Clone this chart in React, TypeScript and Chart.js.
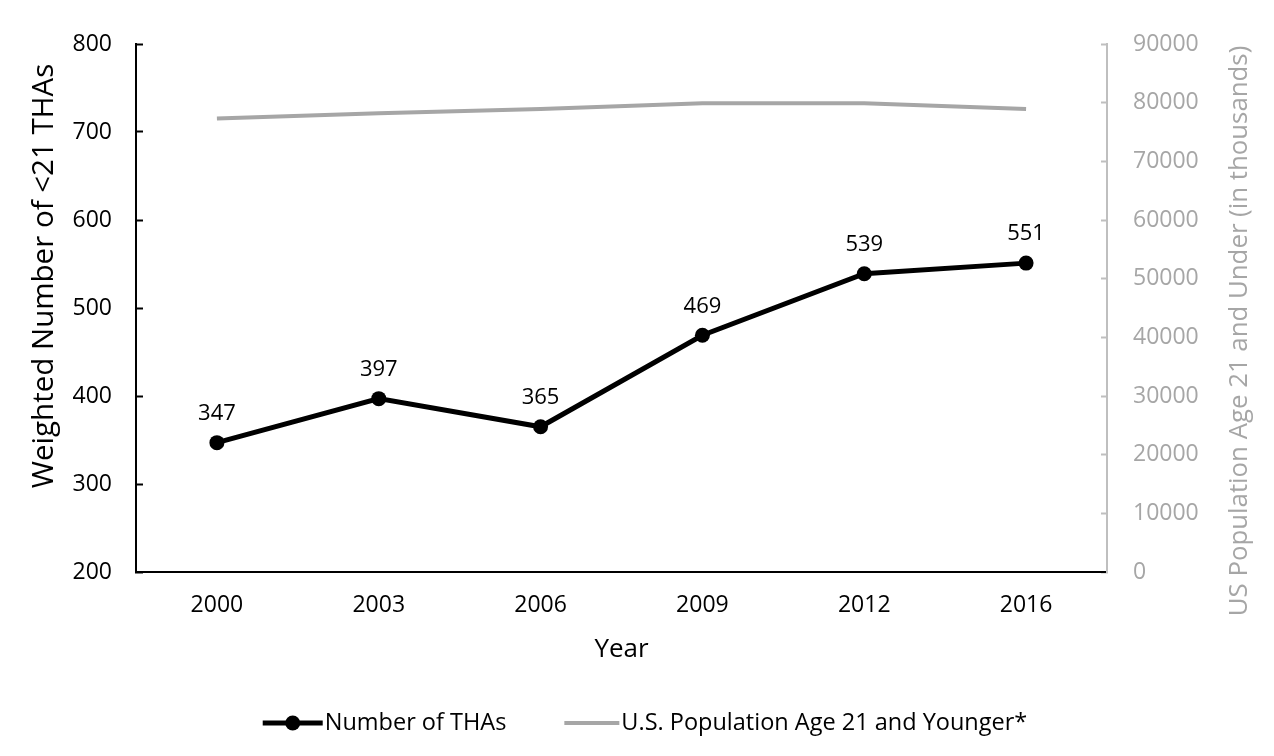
import React, { useEffect, useRef } from "react";
import { Chart, registerables } from "chart.js";

Chart.register(...registerables);

const years = ["2000", "2003", "2006", "2009", "2012", "2016"];
const thas = [347, 397, 365, 469, 539, 551];
const population = [77300, 78200, 78900, 79900, 79900, 78900];
const seriesLabels = ["Number of THAs", "U.S. Population Age 21 and Younger*"];
const leftTitle = "Weighted Number of <21 THAs";
const rightTitle = "US Population Age 21 and Under (in thousands)";
const xTitle = "Year";

const FONT = "'Open Sans', 'Noto Sans', sans-serif";
const BLACK = "#000000";
const GRAY = "#a6a6a6";
const GRAY_AXIS = "#bfbfbf";

const W = 1258;
const H = 740;

const customPlugin = {
  id: "custom",
  afterDatasetsDraw(chart: any) {
    const ctx = chart.ctx;
    const meta = chart.getDatasetMeta(0);
    ctx.save();
    ctx.font = `22px ${FONT}`;
    ctx.fillStyle = BLACK;
    ctx.textAlign = "center";
    ctx.textBaseline = "middle";
    meta.data.forEach((pt: any, i: number) => {
      ctx.fillText(String(thas[i]), pt.x, pt.y - 29);
    });
    ctx.restore();
  },
  afterDraw(chart: any) {
    const ctx = chart.ctx;
    ctx.save();
    ctx.textAlign = "center";
    ctx.textBaseline = "middle";
    ctx.fillStyle = BLACK;
    ctx.font = `29.5px ${FONT}`;
    ctx.save();
    ctx.translate(37, 268);
    ctx.rotate(-Math.PI / 2);
    ctx.fillText(leftTitle, 0, 0);
    ctx.restore();
    ctx.fillStyle = GRAY;
    ctx.font = `25.8px ${FONT}`;
    ctx.save();
    ctx.translate(1232, 323);
    ctx.rotate(-Math.PI / 2);
    ctx.fillText(rightTitle, 0, 0);
    ctx.restore();

    // legend
    ctx.font = `23.5px ${FONT}`;
    ctx.textAlign = "left";
    const t1 = seriesLabels[0];
    const t2 = seriesLabels[1];
    const w1 = ctx.measureText(t1).width;
    const w2 = ctx.measureText(t2).width;
    const m1 = 60, g1 = 2, gap = 58, m2 = 55, g2 = 2;
    const total = m1 + g1 + w1 + gap + m2 + g2 + w2;
    let x = 637 - total / 2;
    const y = 715;
    ctx.strokeStyle = BLACK;
    ctx.lineWidth = 5;
    ctx.beginPath();
    ctx.moveTo(x, y);
    ctx.lineTo(x + m1, y);
    ctx.stroke();
    ctx.fillStyle = BLACK;
    ctx.beginPath();
    ctx.arc(x + m1 / 2, y, 7.5, 0, Math.PI * 2);
    ctx.fill();
    x += m1 + g1;
    ctx.fillText(t1, x, y);
    x += w1 + gap;
    ctx.strokeStyle = GRAY;
    ctx.lineWidth = 4;
    ctx.beginPath();
    ctx.moveTo(x, y);
    ctx.lineTo(x + m2, y);
    ctx.stroke();
    x += m2 + g2;
    ctx.fillStyle = BLACK;
    ctx.fillText(t2, x, y);
    ctx.restore();
  },
};

export default function App() {
  const ref = useRef<HTMLCanvasElement | null>(null);

  useEffect(() => {
    if (!ref.current) return;
    const chart = new Chart(ref.current, {
      type: "line",
      data: {
        labels: years,
        datasets: [
          {
            label: seriesLabels[0],
            data: thas,
            yAxisID: "y",
            borderColor: BLACK,
            backgroundColor: BLACK,
            borderWidth: 5,
            pointRadius: 7.5,
            pointBackgroundColor: BLACK,
            pointBorderWidth: 0,
            tension: 0,
          },
          {
            label: seriesLabels[1],
            data: population,
            yAxisID: "y1",
            borderColor: GRAY,
            backgroundColor: GRAY,
            borderWidth: 4,
            pointRadius: 0,
            tension: 0,
          },
        ],
      },
      options: {
        responsive: false,
        animation: false,
        devicePixelRatio: 1,
        layout: { padding: { top: 36, bottom: 80, left: 0, right: 0 } },
        plugins: {
          legend: { display: false },
          tooltip: { enabled: false },
        },
        scales: {
          x: {
            type: "category",
            offset: true,
            grid: { display: false, drawTicks: false },
            border: { display: true, color: BLACK, width: 2 },
            ticks: {
              color: BLACK,
              font: { family: FONT, size: 23, lineHeight: 1.2 },
              padding: 20,
            },
            title: {
              display: true,
              text: xTitle,
              color: BLACK,
              font: { family: FONT, size: 26, lineHeight: 1.2 },
              padding: { top: 0, bottom: 3 },
            },
            afterFit(scale: any) {
              scale.height = 96;
            },
          },
          y: {
            position: "left",
            min: 200,
            max: 800,
            ticks: {
              stepSize: 100,
              color: BLACK,
              font: { family: FONT, size: 23 },
              padding: 31,
              callback: (v: any) => String(v),
            },
            grid: {
              display: true,
              drawOnChartArea: false,
              drawTicks: true,
              tickLength: -7,
              color: BLACK,
              tickWidth: 2,
            },
            border: { display: true, color: BLACK, width: 2 },
            afterFit(scale: any) {
              scale.width = 128;
              scale.paddingTop = 0;
              scale.paddingBottom = 0;
            },
          },
          y1: {
            position: "right",
            min: 0,
            max: 90000,
            ticks: {
              stepSize: 10000,
              color: GRAY,
              font: { family: FONT, size: 23 },
              padding: 32,
              callback: (v: any) => String(v),
            },
            grid: {
              display: true,
              drawOnChartArea: false,
              drawTicks: true,
              tickLength: -6,
              color: GRAY_AXIS,
              tickWidth: 2,
            },
            border: { display: true, color: GRAY_AXIS, width: 2 },
            afterFit(scale: any) {
              scale.width = 159;
              scale.paddingTop = 0;
              scale.paddingBottom = 0;
            },
          },
        },
      },
      plugins: [customPlugin],
    } as any);
    return () => chart.destroy();
  }, []);

  return (
    <div style={{ width: W, height: H }}>
      <canvas ref={ref} width={W} height={H} style={{ width: W, height: H, display: "block" }} />
    </div>
  );
}
